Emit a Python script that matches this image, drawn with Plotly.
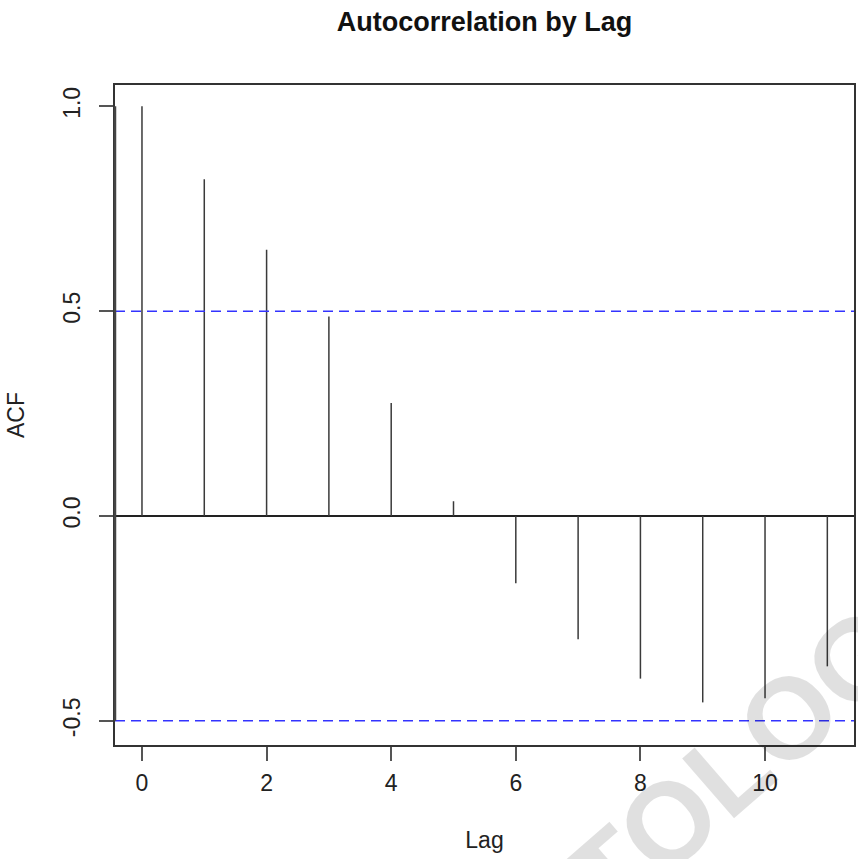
import plotly.graph_objects as go

# ---- data ----
lags = [0, 1, 2, 3, 4, 5, 6, 7, 8, 9, 10, 11]
acf_values = [1.0, 0.822, 0.650, 0.487, 0.276, 0.036, -0.164, -0.301, -0.397, -0.455, -0.445, -0.367]
conf_limit = 0.5
x_ticks = [0, 2, 4, 6, 8, 10]
y_ticks = [-0.5, 0.0, 0.5, 1.0]
y_tick_labels = ["-0.5", "0.0", "0.5", "1.0"]
title_text = "Autocorrelation by Lag"
x_title = "Lag"
y_title = "ACF"
watermark = "STATOLOGY"

FONT = "Liberation Sans, Arial, Helvetica, sans-serif"

# build spike segments from the data
sx, sy = [], []
for lag, v in zip(lags, acf_values):
    sx += [lag, lag, None]
    sy += [0, v, None]

fig = go.Figure()
fig.add_trace(go.Scatter(x=sx, y=sy, mode="lines",
                         line=dict(color="#3a3a3a", width=1.5),
                         hoverinfo="skip", showlegend=False))

# confidence limits (dashed blue)
for c in (conf_limit, -conf_limit):
    fig.add_shape(type="line", xref="paper", x0=0, x1=1, yref="y", y0=c, y1=c,
                  line=dict(color="#3333ff", width=1.5, dash="10px,6px"))

# R-style y axis line spanning first..last tick
fig.add_shape(type="line", xref="paper", x0=0, x1=0, yref="y",
              y0=min(y_ticks), y1=max(y_ticks),
              line=dict(color="#444444", width=2.5))

fig.add_annotation(text=watermark, xref="paper", yref="paper", x=0.771, y=-0.0955,
                   xanchor="center", yanchor="middle",
                   showarrow=False, textangle=-41,
                   font=dict(family=FONT, size=115, color="rgba(0,0,0,0.12)", weight="bold"))

fig.update_layout(
    width=858, height=859,
    margin=dict(l=115, r=4, t=85, b=114, autoexpand=False),
    paper_bgcolor="white", plot_bgcolor="white",
    font=dict(family=FONT, size=23, color="#222222"),
    title=dict(text="<b>" + title_text + "</b>", x=0.5, xref="paper",
               y=1 - 22 / 859, yref="container", yanchor="middle", xanchor="center",
               font=dict(family=FONT, size=27, color="#111111")),
    xaxis=dict(range=[-0.433, 11.428], tickvals=x_ticks, ticktext=[str(t) for t in x_ticks],
               automargin=False,
               showgrid=False, zeroline=False, showline=True, mirror=True,
               linecolor="#333333", linewidth=1.5,
               ticks="outside", ticklen=14, tickwidth=1.5, tickcolor="#555555",
               ticklabelstandoff=3,
               title=dict(text=x_title, standoff=37, font=dict(size=23))),
    yaxis=dict(range=[-0.559, 1.052], tickvals=y_ticks, ticktext=y_tick_labels,
               tickangle=-90, automargin=False,
               showgrid=False, zeroline=True, zerolinecolor="#222222", zerolinewidth=1.5,
               showline=True, mirror=True, linecolor="#333333", linewidth=1.5,
               ticks="outside", ticklen=14, tickwidth=1.5, tickcolor="#555555",
               ticklabelstandoff=10,
               title=dict(text=y_title, standoff=28, font=dict(size=23))),
)

fig.write_html("out.html", config={"displayModeBar": False},
               post_script="document.body.style.margin='0px';")
